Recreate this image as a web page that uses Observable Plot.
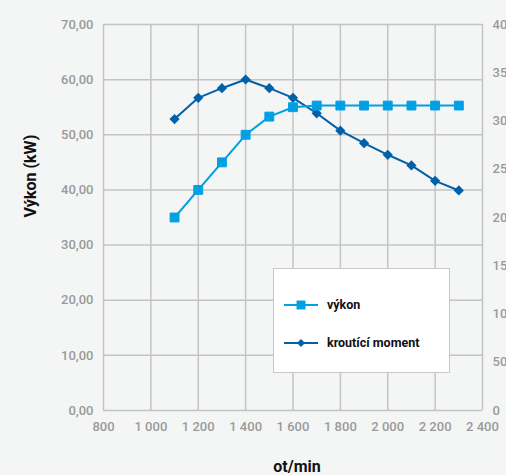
<!DOCTYPE html>
<html>
<head>
<meta charset="utf-8">
<script src="https://cdn.jsdelivr.net/npm/d3@7"></script>
<script src="https://cdn.jsdelivr.net/npm/@observablehq/plot@0.6"></script>
<style>
  html, body { margin: 0; padding: 0; background: #f4f5f5; }
  #wrap { position: relative; width: 506px; height: 475px; overflow: hidden; }
  #legend { position: absolute; left: 273px; top: 268px; width: 177px; height: 105px;
    background: #fff; border: 1.5px solid #c8c8c8; box-sizing: border-box;
    font-family: Roboto, "Noto Sans", sans-serif; font-weight: 700; font-size: 12.5px; color: #111; }
  .item { position: absolute; left: 10px; display: flex; align-items: center; }
  .item svg { margin-right: 9px; }
</style>
</head>
<body>
<div id="wrap"><div id="chart"></div><div id="legend"></div></div>
<script>
const rpm = [1100, 1200, 1300, 1400, 1500, 1600, 1700, 1800, 1900, 2000, 2100, 2200, 2300];
const power = [35.0, 40.0, 45.0, 50.0, 53.3, 55.0, 55.3, 55.3, 55.3, 55.3, 55.3, 55.3, 55.3];
const torque = [302, 324, 334, 343, 334, 324, 308, 290, 277, 265, 254, 238, 228];
const xTicks = [800, 1000, 1200, 1400, 1600, 1800, 2000, 2200, 2400];
const yTicks = [0, 10, 20, 30, 40, 50, 60, 70];
const rightTicks = [0, 50, 100, 150, 200, 250, 300, 350, 400];
const seriesNames = ["výkon", "kroutící moment"];
const colors = ["#00a0e3", "#0060a8"];

const yMax = 70, rMax = 400;
const toLeft = v => v * yMax / rMax;
const powerData = rpm.map((x, i) => ({x, y: power[i]}));
const torqueData = rpm.map((x, i) => ({x, y: toLeft(torque[i])}));
const thousands = d => String(d).replace(/\B(?=(\d{3})+$)/g, " ");

const chart = Plot.plot({
  width: 506, height: 475,
  marginLeft: 103, marginRight: 24, marginTop: 24, marginBottom: 65,
  style: {background: "#f4f5f5", fontFamily: "Roboto, 'Noto Sans', sans-serif", overflow: "hidden"},
  x: {domain: [800, 2400]},
  y: {domain: [0, yMax]},
  marks: [
    Plot.gridX(xTicks, {stroke: "#c4c4c4", strokeOpacity: 1, strokeWidth: 1.5}),
    Plot.gridY(yTicks, {stroke: "#c4c4c4", strokeOpacity: 1, strokeWidth: 1.5}),
    Plot.axisX(xTicks, {tickSize: 0, tickPadding: 11, tickFormat: thousands, fontSize: 13, fontWeight: 500, fill: "#9a9a9a", label: null}),
    Plot.axisY(yTicks, {tickSize: 0, tickPadding: 10, tickFormat: d => d.toFixed(2).replace(".", ","), fontSize: 13, fontWeight: 500, fill: "#9a9a9a", label: null}),
    Plot.axisY(rightTicks.map(toLeft), {anchor: "right", tickSize: 0, tickPadding: 10, tickFormat: d => String(Math.round(d * rMax / yMax)), fontSize: 13, fontWeight: 500, fill: "#9a9a9a", label: null}),
    Plot.text(["ot/min"], {frameAnchor: "bottom", dy: 61, dx: 4, fontSize: 16, fontWeight: 700, fill: "#111"}),
    Plot.text(["Výkon (kW)"], {frameAnchor: "left", dx: -73, rotate: -90, fontSize: 16, fontWeight: 700, fill: "#111"}),
    Plot.line(torqueData, {x: "x", y: "y", stroke: colors[1], strokeWidth: 2}),
    Plot.dot(torqueData, {x: "x", y: "y", symbol: "diamond2", r: 4.6, fill: colors[1]}),
    Plot.line(powerData, {x: "x", y: "y", stroke: colors[0], strokeWidth: 2}),
    Plot.dot(powerData, {x: "x", y: "y", symbol: "square", r: 5, fill: colors[0], stroke: colors[0], strokeWidth: 1, strokeLinejoin: "round"})
  ]
});
document.getElementById("chart").appendChild(chart);

const legend = document.getElementById("legend");
seriesNames.forEach((name, i) => {
  const item = document.createElement("div");
  item.className = "item";
  item.style.top = (i === 0 ? 28 : 66) + "px";
  const sym = d3.symbol(i === 0 ? d3.symbolSquare : d3.symbolDiamond2, i === 0 ? 80 : 40)();
  item.innerHTML = `<svg width="34" height="14"><line x1="0" x2="34" y1="7" y2="7" stroke="${colors[i]}" stroke-width="2"/><path d="${sym}" transform="translate(17,7)" fill="${colors[i]}"/></svg><span>${name}</span>`;
  legend.appendChild(item);
});
</script>
</body>
</html>
